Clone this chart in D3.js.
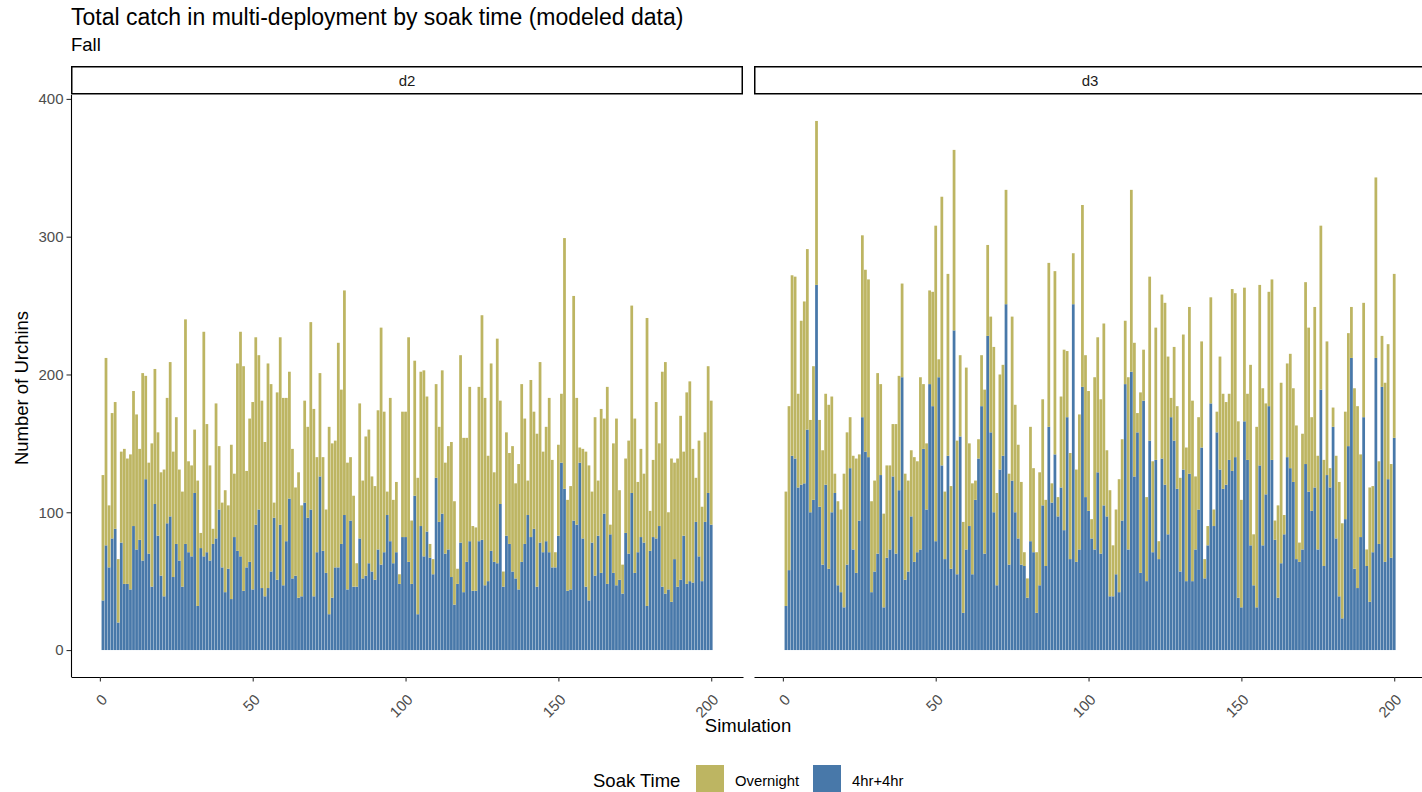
<!DOCTYPE html>
<html>
<head>
<meta charset="utf-8">
<script src="https://cdn.jsdelivr.net/npm/d3@7"></script>
<style>
  body { margin: 0; background: #fff; }
  svg { display: block; font-family: "Liberation Sans", Arial, Helvetica, sans-serif; }
</style>
</head>
<body>
<svg id="chart" width="1422" height="792"></svg>
<script>
// facets, series, ticks
const panels = ['d2', 'd3'];
const seriesNames = ['Overnight', '4hr+4hr'];
const yTicks = [0, 100, 200, 300, 400];
const xTicks = [0, 50, 100, 150, 200];

// total catch per simulation (top of the stacked bar), and the 4hr+4hr part of it
const d2Total = [
  127, 212, 105, 172, 180, 66, 144, 146, 139, 142, 188, 171, 146, 201, 199, 136, 150, 204, 158, 129,
  131, 183, 209, 144, 169, 131, 115, 240, 137, 134, 160, 123, 85, 231, 164, 134, 88, 179, 148, 107,
  116, 105, 149, 128, 208, 231, 206, 130, 168,
  180, 227, 214, 181, 151, 208, 193, 107, 187, 227, 183, 183, 202, 146, 118, 129, 105, 181, 162, 238,
  175, 140, 201, 140, 102, 162, 150, 152, 223, 189, 261, 136, 140, 112, 63, 179, 123, 155, 160, 126,
  119, 174, 234, 173, 115, 183, 109, 122, 55, 173,
  173, 227, 94, 210, 125, 202, 203, 184, 77, 66, 193, 162, 203, 136, 148, 151, 108, 59, 214, 154,
  154, 191, 90, 89, 191, 243, 183, 141, 208, 129, 226, 181, 57, 158, 143, 148, 121, 135, 193, 168,
  123, 196, 173, 157, 209, 144, 162, 183, 138, 71, 149,
  186, 299, 109, 119, 257, 183, 147, 146, 144, 134, 115, 169, 123, 175, 168, 191, 91, 150, 168, 116,
  62, 139, 152, 250, 168, 122, 146, 128, 241, 101, 138, 180, 150, 202, 209, 100, 139, 136, 139, 170,
  144, 187, 195, 146, 125, 152, 104, 158, 206, 181
];
const d2FourHr = [
  36, 76, 60, 81, 88, 20, 78, 48, 48, 44, 90, 73, 80, 65, 124, 70, 46, 106, 83, 54,
  39, 92, 97, 53, 77, 65, 46, 77, 71, 68, 114, 32, 74, 68, 71, 65, 77, 81, 102, 60,
  42, 59, 37, 82, 72, 68, 43, 60, 64,
  44, 91, 102, 45, 39, 45, 57, 96, 51, 91, 47, 79, 110, 52, 54, 38, 39, 107, 96, 102,
  39, 71, 126, 72, 56, 26, 38, 60, 60, 77, 98, 44, 94, 46, 46, 81, 52, 54, 63, 57,
  51, 73, 62, 71, 98, 79, 63, 71, 48, 82,
  82, 64, 48, 112, 26, 90, 68, 86, 67, 55, 125, 93, 99, 70, 73, 53, 33, 48, 78, 42,
  64, 79, 43, 43, 79, 80, 47, 50, 72, 64, 63, 106, 46, 83, 77, 57, 52, 44, 64, 77,
  98, 82, 88, 46, 78, 71, 79, 71, 60, 60, 83,
  136, 117, 43, 44, 94, 91, 136, 81, 46, 36, 78, 54, 83, 56, 99, 48, 84, 56, 47, 51,
  41, 85, 70, 114, 56, 71, 82, 78, 32, 72, 82, 81, 90, 46, 41, 44, 35, 66, 46, 51,
  83, 48, 50, 49, 93, 68, 50, 93, 114, 91
];
const d3Total = [
  115, 177, 272, 271, 186, 239, 253, 291, 167, 206, 384, 167, 145, 186, 178, 184, 128, 108, 102, 128,
  158, 169, 141, 139, 142, 301, 276, 269, 108, 123, 201, 193, 99, 134, 134, 164, 164, 199, 266, 128,
  123, 145, 140, 137, 198, 193, 150, 261, 260,
  308, 211, 329, 115, 273, 119, 363, 152, 214, 93, 205, 150, 121, 123, 153, 214, 189, 294, 242, 220,
  114, 200, 207, 334, 128, 242, 178, 149, 122, 71,
  52, 162, 132, 71, 129, 182, 109, 281, 121, 275, 111, 184, 218, 217, 143, 288, 131, 171, 323, 214,
  188,
  95, 198, 227, 182, 237, 145, 116, 76, 102, 124, 153, 239, 198, 334, 223, 172, 187, 218, 111, 271,
  137, 234, 79, 258, 252, 213, 183, 220, 177, 125, 229, 147, 249, 181, 126, 169, 224, 66, 90, 256,
  102, 173, 213, 186, 180, 186, 262, 259, 166, 109,
  263, 186, 207, 84, 162, 265, 190, 179, 260, 269, 94, 105, 194, 98, 208, 215, 190, 163, 78, 157,
  267, 234, 169, 249, 141, 308, 138, 224, 132, 176, 141, 122, 92, 173, 230, 249, 190, 177, 142, 252,
  73, 118, 119, 343, 137, 228, 194, 222, 135, 273
];
const d3FourHr = [
  32, 58, 141, 139, 118, 120, 121, 160, 100, 109, 265, 104, 62, 120, 59, 100, 114, 47, 42, 31,
  62, 132, 73, 56, 94, 169, 144, 140, 42, 57, 70, 127, 31, 67, 73, 126, 70, 116, 198, 51,
  57, 97, 64, 71, 73, 146, 102, 193, 177,
  79, 198, 134, 66, 141, 59, 232, 55, 155, 27, 73, 90, 55, 109, 139, 177, 70, 228, 158, 100,
  47, 131, 141, 251, 62, 123, 100, 81, 62, 61,
  38, 79, 71, 27, 47, 105, 61, 162, 107, 142, 97, 118, 87, 169, 66, 251, 64, 73, 191, 111,
  101,
  81, 73, 129, 70, 105, 97, 39, 39, 55, 42, 94, 193, 73, 202, 126, 158, 56, 181, 50, 152,
  71, 138, 66, 139, 120, 84, 169, 152, 117, 57, 131, 50, 128, 50, 73, 102, 147, 52, 76, 179,
  90, 158, 131, 117, 120, 138, 130, 140, 38, 31,
  166, 138, 76, 47, 31, 134, 76, 113, 177, 138, 80, 38, 63, 84, 140, 132, 122, 66, 64, 73,
  135, 115, 101, 118, 73, 189, 61, 127, 118, 162, 81, 39, 23, 95, 148, 212, 59, 45, 82, 169,
  61, 35, 71, 212, 77, 191, 64, 124, 67, 154
];

const config = {
  'overnight': '#BDB562',
  'fourhr': '#4878A9',
  'panel-width': 672,
  'axis': '#000',
  'tick-text': '#4d4d4d'
};

const svg = d3.select('#chart');

// title / subtitle
svg.append('text').attr('x', 71).attr('y', 25)
  .style('font-size', '23px').attr('fill', '#000')
  .text('Total catch in multi-deployment by soak time (modeled data)');
svg.append('text').attr('x', 71).attr('y', 51)
  .style('font-size', '18.5px').attr('fill', '#000')
  .text('Fall');

const y = d3.scaleLinear().domain([-19.2, 403.2]).range([676.5, 94.5]);

const panelDefs = [
  { name: panels[0], x0: 71, total: d2Total, four: d2FourHr },
  { name: panels[1], x0: 754, total: d3Total, four: d3FourHr }
];

panelDefs.forEach((p, pi) => {
  const x = d3.scaleLinear()
    .domain([-9.45, 210.4])
    .range([p.x0, p.x0 + config['panel-width']]);

  const rows = p.total.map((t, i) => ({ sim: i + 1, four: p.four[i], overnight: t - p.four[i] }));
  const stacked = d3.stack().keys(['four', 'overnight'])(rows);

  const g = svg.append('g').attr('class', 'panel');

  g.selectAll('g.layer')
    .data(stacked)
    .enter()
    .append('g')
    .attr('class', 'layer')
    .attr('fill', d => d.key === 'four' ? config['fourhr'] : config['overnight'])
    .selectAll('rect')
    .data(d => d)
    .enter()
    .append('rect')
    .attr('x', d => x(d.data.sim - 0.45))
    .attr('width', x(0.9) - x(0))
    .attr('y', d => y(d[1]))
    .attr('height', d => y(d[0]) - y(d[1]));

  // strip
  g.append('rect')
    .attr('x', p.x0 + 0.75).attr('y', 66.75)
    .attr('width', config['panel-width'] - 1.5).attr('height', 27)
    .attr('fill', '#fff').attr('stroke', '#000').attr('stroke-width', 1.5);
  g.append('text')
    .attr('x', p.x0 + config['panel-width'] / 2).attr('y', 80.5)
    .attr('dy', '0.35em').attr('text-anchor', 'middle')
    .style('font-size', '15px').attr('fill', '#1a1a1a')
    .text(p.name);

  // x axis
  const xAxis = g.append('g')
    .attr('transform', 'translate(0,677)')
    .call(d3.axisBottom(x).tickValues(xTicks).tickSize(4.5).tickSizeOuter(0));
  xAxis.select('.domain').attr('stroke', config['axis']).attr('stroke-width', 1.1);
  xAxis.selectAll('.tick line').attr('stroke', '#333').attr('stroke-width', 1.1);
  xAxis.selectAll('.tick text')
    .attr('x', 0).attr('y', 0).attr('dy', '0.35em')
    .attr('transform', 'translate(4,20) rotate(-45)')
    .attr('text-anchor', 'end')
    .style('font-size', '15px').style('font-family', 'inherit')
    .attr('fill', config['tick-text']);

  // y axis only on the first facet
  if (pi === 0) {
    const yAxis = g.append('g')
      .attr('transform', `translate(${p.x0},0)`)
      .call(d3.axisLeft(y).tickValues(yTicks).tickSize(4.5).tickPadding(3).tickSizeOuter(0));
    yAxis.select('.domain').attr('stroke', config['axis']).attr('stroke-width', 1.1);
    yAxis.selectAll('.tick line').attr('stroke', '#333').attr('stroke-width', 1.1);
    yAxis.selectAll('.tick text')
      .style('font-size', '15px').style('font-family', 'inherit')
      .attr('fill', config['tick-text']);
  }
});

// axis titles
svg.append('text')
  .attr('x', 748).attr('y', 732).attr('text-anchor', 'middle')
  .style('font-size', '18.5px').attr('fill', '#000')
  .text('Simulation');
svg.append('text')
  .attr('transform', 'translate(28,388) rotate(-90)')
  .attr('text-anchor', 'middle')
  .style('font-size', '18.5px').attr('fill', '#000')
  .text('Number of Urchins');

// legend
const legend = svg.append('g');
legend.append('text')
  .attr('x', 593).attr('y', 787)
  .style('font-size', '18.5px').attr('fill', '#000')
  .text('Soak Time');
const keys = [
  { label: seriesNames[0], color: config['overnight'], x: 696 },
  { label: seriesNames[1], color: config['fourhr'], x: 813 }
];
keys.forEach(k => {
  legend.append('rect')
    .attr('x', k.x).attr('y', 765)
    .attr('width', 28).attr('height', 28)
    .attr('fill', k.color);
  legend.append('text')
    .attr('x', k.x + 39).attr('y', 786)
    .style('font-size', '14.8px').attr('fill', '#000')
    .text(k.label);
});
</script>
</body>
</html>
